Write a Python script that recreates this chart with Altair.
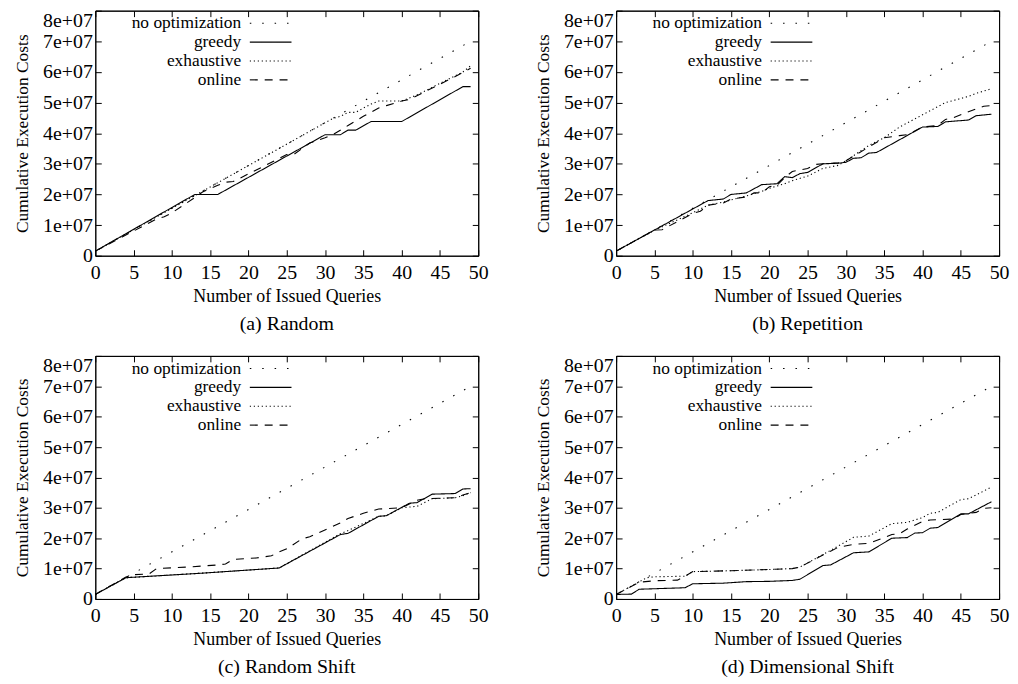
import altair as alt
import pandas as pd

FONT = "Liberation Serif"
SERIES = ["no optimization", "greedy", "exhaustive", "online"]
DASHES = [[1.5, 11], [1, 0], [1.2, 2.8], [8, 7]]
XTICKS = [0, 5, 10, 15, 20, 25, 30, 35, 40, 45, 50]
YTICKS = [0, 1e7, 2e7, 3e7, 4e7, 5e7, 6e7, 7e7, 8e7]

CAPTIONS = {"a": "(a) Random", "b": "(b) Repetition",
            "c": "(c) Random Shift", "d": "(d) Dimensional Shift"}

# no optimization (same in all panels)
noopt_x = [0, 49]
noopt_y = [1.5e6, 7.0e7]

# (a) Random
greedy_a_x = [0, 13, 16, 30, 32, 33, 34, 36, 40, 48, 49]
greedy_a_y = [1.5e6, 2.0e7, 2.0e7, 3.95e7, 3.95e7, 4.1e7, 4.1e7, 4.38e7, 4.38e7, 5.52e7, 5.52e7]
exh_a_x = [0, 31, 32, 33, 34, 35, 36, 37, 40, 41, 42, 44, 46, 48, 49]
exh_a_y = [1.5e6, 4.48e7, 4.55e7, 4.68e7, 4.68e7, 4.82e7, 4.95e7, 5.05e7, 5.05e7, 5.15e7, 5.25e7, 5.5e7, 5.75e7, 6.0e7, 6.2e7]
onl_a_x = [0, 8, 9, 10, 13, 14, 16, 17, 18, 25, 26, 28, 30, 31, 33, 35, 37, 38, 40, 41, 43, 45, 47, 49]
onl_a_y = [1.5e6, 1.2e7, 1.27e7, 1.4e7, 1.9e7, 2.08e7, 2.3e7, 2.4e7, 2.42e7, 3.3e7, 3.32e7, 3.68e7, 3.85e7, 3.95e7,
           4.25e7, 4.55e7, 4.82e7, 4.9e7, 5.05e7, 5.1e7, 5.35e7, 5.6e7, 5.85e7, 6.12e7]

# (b) Repetition
greedy_b_x = [0, 12, 14, 15, 17, 19, 21, 22, 23, 24, 25, 27, 29, 30, 31, 32, 33, 34, 40, 42, 43, 46, 47, 49]
greedy_b_y = [1.5e6, 1.8e7, 1.85e7, 2.0e7, 2.05e7, 2.32e7, 2.35e7, 2.58e7, 2.55e7, 2.68e7, 2.72e7, 3.0e7, 3.02e7,
              3.05e7, 3.18e7, 3.2e7, 3.35e7, 3.37e7, 4.2e7, 4.22e7, 4.37e7, 4.43e7, 4.57e7, 4.62e7]
exh_b_x = [0, 5, 10, 12, 14, 15, 17, 19, 20, 22, 23, 25, 27, 29, 30, 33, 35, 37, 40, 43, 46, 47, 49]
exh_b_y = [1.5e6, 8.3e6, 1.4e7, 1.65e7, 1.75e7, 1.82e7, 1.95e7, 2.1e7, 2.2e7, 2.35e7, 2.45e7, 2.6e7, 2.85e7,
           2.95e7, 3.1e7, 3.6e7, 3.85e7, 4.2e7, 4.6e7, 5.0e7, 5.2e7, 5.3e7, 5.45e7]
onl_b_x = [0, 4, 5, 6, 10, 11, 12, 14, 15, 17, 18, 19, 20, 21, 22, 23, 24, 25, 26, 27, 29, 30, 33, 35, 37, 38,
           40, 42, 43, 44, 46, 48, 49]
onl_b_y = [1.5e6, 7.0e6, 8.4e6, 8.5e6, 1.38e7, 1.45e7, 1.65e7, 1.72e7, 1.85e7, 1.92e7, 2.05e7, 2.05e7, 2.25e7,
           2.3e7, 2.55e7, 2.75e7, 2.8e7, 2.85e7, 2.98e7, 3.0e7, 3.03e7, 3.1e7, 3.55e7, 3.85e7, 3.92e7, 3.95e7,
           4.2e7, 4.25e7, 4.45e7, 4.5e7, 4.7e7, 4.88e7, 4.9e7]

# (c) Random Shift
greedy_c_x = [0, 4, 14, 24, 32, 33, 37, 38, 41, 42, 44, 47, 48, 49]
greedy_c_y = [1.5e6, 7.0e6, 8.5e6, 1.02e7, 2.12e7, 2.16e7, 2.72e7, 2.74e7, 3.15e7, 3.17e7, 3.45e7, 3.47e7, 3.62e7, 3.63e7]
exh_c_x = [0, 4, 14, 24, 32, 33, 37, 38, 40, 42, 44, 47, 48, 49]
exh_c_y = [1.5e6, 7.0e6, 8.5e6, 1.02e7, 2.15e7, 2.25e7, 2.72e7, 2.74e7, 3.0e7, 3.05e7, 3.3e7, 3.33e7, 3.4e7, 3.5e7]
onl_c_x = [0, 4, 5, 7, 8, 12, 16, 17, 18, 21, 23, 24, 25, 27, 28, 32, 33, 35, 37, 40, 42, 43, 47, 48, 49]
onl_c_y = [1.5e6, 7.2e6, 8.0e6, 8.2e6, 1.0e7, 1.05e7, 1.12e7, 1.15e7, 1.3e7, 1.35e7, 1.42e7, 1.55e7, 1.65e7,
           1.98e7, 2.05e7, 2.5e7, 2.65e7, 2.82e7, 2.96e7, 3.0e7, 3.25e7, 3.3e7, 3.33e7, 3.42e7, 3.5e7]

# (d) Dimensional Shift
greedy_d_x = [0, 2, 3, 9, 10, 14, 17, 20, 23, 24, 27, 28, 31, 33, 36, 38, 39, 40, 41, 42, 45, 46, 49]
greedy_d_y = [1.5e6, 1.6e6, 3.2e6, 3.7e6, 5.0e6, 5.2e6, 5.7e6, 5.8e6, 6.1e6, 6.5e6, 1.1e7, 1.12e7, 1.52e7,
              1.55e7, 2.0e7, 2.02e7, 2.17e7, 2.18e7, 2.33e7, 2.35e7, 2.8e7, 2.8e7, 3.2e7]
exh_d_x = [0, 4, 5, 9, 10, 15, 20, 23, 24, 28, 31, 33, 36, 38, 40, 41, 42, 45, 46, 49]
exh_d_y = [1.5e6, 7.0e6, 7.3e6, 7.5e6, 9.0e6, 9.3e6, 9.7e6, 1.0e7, 1.05e7, 1.6e7, 2.03e7, 2.07e7, 2.48e7,
           2.52e7, 2.68e7, 2.82e7, 2.85e7, 3.27e7, 3.3e7, 3.68e7]
onl_d_x = [0, 3, 5, 8, 9, 10, 15, 20, 23, 24, 27, 29, 31, 33, 36, 37, 38, 40, 41, 44, 45, 46, 47, 48, 49]
onl_d_y = [1.5e6, 5.5e6, 6.0e6, 6.2e6, 7.5e6, 9.0e6, 9.3e6, 9.7e6, 1.0e7, 1.05e7, 1.45e7, 1.7e7, 1.8e7,
           1.83e7, 2.12e7, 2.15e7, 2.3e7, 2.55e7, 2.6e7, 2.63e7, 2.78e7, 2.82e7, 2.85e7, 2.98e7, 3.0e7]

SOURCES = {
    "a": [(noopt_x, noopt_y), (greedy_a_x, greedy_a_y), (exh_a_x, exh_a_y), (onl_a_x, onl_a_y)],
    "b": [(noopt_x, noopt_y), (greedy_b_x, greedy_b_y), (exh_b_x, exh_b_y), (onl_b_x, onl_b_y)],
    "c": [(noopt_x, noopt_y), (greedy_c_x, greedy_c_y), (exh_c_x, exh_c_y), (onl_c_x, onl_c_y)],
    "d": [(noopt_x, noopt_y), (greedy_d_x, greedy_d_y), (exh_d_x, exh_d_y), (onl_d_x, onl_d_y)],
}

rows = []
for key, lst in SOURCES.items():
    for name, (xs, ys) in zip(SERIES, lst):
        for xv, yv in zip(xs, ys):
            rows.append({"panel": key, "series": name, "x": xv, "y": yv})
df = pd.DataFrame(rows)

W = 386
HEIGHTS = {"a": 247, "b": 247, "c": 245, "d": 245}
TICK = {"expr": "-6"}

def axis_common(**kw):
    return alt.Axis(domain=True, domainColor="black", domainWidth=1, grid=False,
                    tickColor="black", tickWidth=1, tickSize=TICK,
                    labelFont=FONT, labelFontSize=20, labelColor="black",
                    titleFont=FONT, titleFontWeight="normal", titleColor="black",
                    **kw)

def panel(key):
    d = df[df.panel == key]
    base = alt.Chart(d)
    xs = alt.Scale(domain=[0, 50], nice=False)
    ys = alt.Scale(domain=[0, 8e7], nice=False)
    lines = base.mark_line(color="black", strokeWidth=1.1, strokeCap="butt", clip=True).encode(
        x=alt.X("x:Q", scale=xs, axis=axis_common(values=XTICKS, title="Number of Issued Queries",
                                                 titleFontSize=18, labelPadding=13, titlePadding=5,
                                                 labelFlush=False)),
        y=alt.Y("y:Q", scale=ys, axis=axis_common(
            values=YTICKS, title="Cumulative Execution Costs", titleFontSize=17.5,
            labelPadding=9, titlePadding=11,
            labelBaseline={"condition": {"test": "datum.value == 80000000", "value": "top"},
                           "value": "middle"},
            labelExpr="datum.value == 0 ? '0' : (datum.value / 10000000) + 'e+07'")),
        strokeDash=alt.StrokeDash("series:N", scale=alt.Scale(domain=SERIES, range=DASHES),
                                  legend=alt.Legend(orient="none", legendX=168, legendY=4, title=None,
                                                    symbolType="M-2.8,0L2.8,0", symbolSize=225,
                                                    symbolStrokeColor="black", symbolStrokeWidth=1.1,
                                                    symbolFillColor="transparent",
                                                    labelAlign="right", labelOffset={"expr": "-38.5"},
                                                    rowPadding=0,
                                                    labelFont=FONT, labelFontSize=17.5, labelColor="black",
                                                    labelLimit=160, padding=0)),
    )
    mirror = base.mark_line(opacity=0).encode(
        x=alt.X("x:Q", scale=xs, axis=axis_common(values=XTICKS, orient="top", labels=False, title="",
                                                 labelFlush=False, minExtent=0, maxExtent=0)),
        y=alt.Y("y:Q", scale=ys, axis=axis_common(values=YTICKS, orient="right", labels=False, title="",
                                                 minExtent=0, maxExtent=0)),
        detail="series:N",
    )
    return alt.layer(lines, mirror).resolve_axis(x="independent", y="independent").properties(
        width=W, height=HEIGHTS[key],
        title=alt.TitleParams(CAPTIONS[key], orient="bottom", anchor="middle", font=FONT, fontSize=20,
                              fontWeight="normal", color="black", offset=9),
    )

chart = alt.concat(panel("a"), panel("b"), panel("c"), panel("d"), columns=2,
                   spacing={"row": 20, "column": 45}).resolve_scale(
    strokeDash="independent").resolve_legend(strokeDash="independent").properties(
    padding={"top": -1, "left": 5, "right": 0, "bottom": 0}, background="white"
).configure_view(stroke="black", strokeWidth=1)

chart.save("out.html", embed_options={"renderer": "svg", "actions": False})
